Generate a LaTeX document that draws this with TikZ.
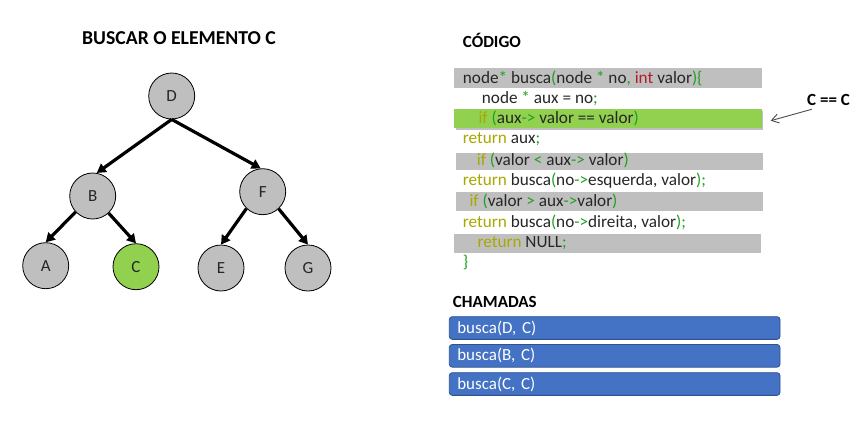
\documentclass[tikz,border=0pt]{standalone}
\usepackage{fontspec}
\setmainfont{Carlito}
\usetikzlibrary{arrows.meta}
\definecolor{txt}{RGB}{38,38,38}
\definecolor{cgreen}{RGB}{30,160,30}
\definecolor{colive}{RGB}{168,168,0}
\definecolor{cred}{RGB}{180,30,40}
\definecolor{bargray}{RGB}{191,191,191}
\definecolor{bargreen}{RGB}{146,208,80}
\definecolor{boxblue}{RGB}{68,114,196}
\definecolor{boxedge}{RGB}{47,82,143}
\newcommand\Gc[1]{\textcolor{cgreen}{#1}}
\newcommand\Yc[1]{\textcolor{colive}{#1}}
\newcommand\Rc[1]{\textcolor{cred}{#1}}
\tikzset{
  treenode/.style={circle, draw=black, line width=0.8pt, fill=bargray, minimum size=46pt, inner sep=0pt, font=\fontsize{17}{19}\selectfont, text=txt},
  edge/.style={line width=3.2pt, -{Triangle[length=9pt,width=10pt]}},
  heading/.style={font=\fontsize{17}{19}\selectfont\bfseries, text=black, inner sep=0pt},
  codeline/.style={anchor=west, inner sep=0pt, font=\fontsize{17.2}{19}\selectfont, text=txt},
  callbox/.style={draw=boxedge, line width=0.8pt, fill=boxblue, rounded corners=3pt, minimum height=22.7pt, text width=314.7pt, inner xsep=8pt, inner ysep=0pt, align=left, text=white, font=\fontsize{17}{19}\selectfont},
}
\begin{document}
\begin{tikzpicture}[x=1pt,y=-1pt]
\useasboundingbox (0,0) rectangle (861,436);
\fill[white] (0,0) rectangle (861,436);
% titles
\node[heading, font=\fontsize{19.7}{22}\selectfont\bfseries] (title) at (179,38.5) {BUSCAR O ELEMENTO C};
\node[heading, anchor=west] (codigo) at (462.7,40) {CÓDIGO};
\node[heading, anchor=west] (chamadas) at (452.7,302) {CHAMADAS};
% tree
\node[treenode] (D) at (171.7,96) {D};
\node[treenode] (B) at (92.7,196) {B};
\node[treenode] (F) at (262.7,191.7) {F};
\node[treenode] (A) at (45.7,265.7) {A};
\node[treenode, fill=bargreen] (C) at (136,266.7) {C};
\node[treenode] (E) at (221,268) {E};
\node[treenode] (G) at (308,268) {G};
\draw[edge] (D.south) -- (B.80);
\draw[edge] (D.south) -- (F.95);
\draw[edge] (B.223) -- (A.north);
\draw[edge] (B.313) -- (C.north);
\draw[edge] (F.226) -- (E.north);
\draw[edge] (F.313) -- (G.north);
% code bars
\fill[bargray] (454,68.3) rectangle (761.7,88.3);
\fill[black!25] (455.5,110.8) rectangle (763.2,129.8);
\fill[bargreen] (454,109.3) rectangle (761.7,128.3);
\fill[bargray] (456,152.5) rectangle (763,170);
\fill[bargray] (456,192.3) rectangle (762.7,210.7);
\fill[bargray] (454,234) rectangle (760.7,252.7);
% code
\node[codeline] (r1) at (462.7,78) {node\Gc{*} busca\Gc{(}node \Gc{*} no\Gc{,} \Rc{int} valor\Gc{)\{}};
\node[codeline] (r2) at (481.7,98) {node \Gc{*} aux = no\Gc{;}};
\node[codeline] (r3) at (478.3,118.5) {\Yc{if} \Gc{(}aux\Gc{->} valor == valor\Gc{)}};
\node[codeline] (r4) at (462.7,139.3) {\Yc{return} aux\Gc{;}};
\node[codeline] (r5) at (476.7,160) {\Yc{if} \Gc{(}valor \Gc{<} aux\Gc{->} valor\Gc{)}};
\node[codeline] (r6) at (462.7,180.5) {\Yc{return} busca\Gc{(}no\Gc{->}esquerda, valor\Gc{);}};
\node[codeline] (r7) at (469.3,201) {\Yc{if} \Gc{(}valor \Gc{>} aux\Gc{->}valor\Gc{)}};
\node[codeline] (r8) at (462.7,222.3) {\Yc{return} busca\Gc{(}no\Gc{->}direita, valor\Gc{);}};
\node[codeline] (r9) at (477.3,243.3) {\Yc{return} NULL\Gc{;}};
\node[codeline] (r10) at (462.7,262) {\Gc{\}}};
% callout
\node[heading, font=\fontsize{17}{19}\selectfont\bfseries] (cc) at (828.5,100) {C == C};
\coordinate (ccend) at (770.7,120.7);
\draw[draw=black!70, line width=0.9pt, -{Straight Barb[length=7pt,width=9pt]}] (811.7,109.3) -- (ccend);
% calls
\node[callbox] (c1) at (614.65,328) {busca(D, C)};
\node[callbox] (c2) at (614.65,355.8) {busca(B, C)};
\node[callbox] (c3) at (614.65,384) {busca(C, C)};
\end{tikzpicture}
\end{document}
